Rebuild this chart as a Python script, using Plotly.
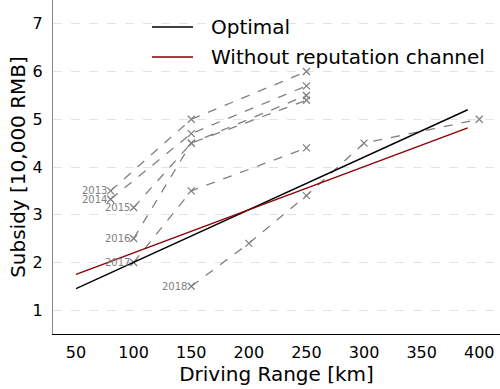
import plotly.graph_objects as go

# Historical subsidy schedules (driving range thresholds in km, subsidy in 10,000 RMB)
years = ["2013", "2014", "2015", "2016", "2017", "2018"]
ranges = [
    [80, 150, 250],
    [80, 150, 250],
    [100, 150, 250],
    [100, 150, 250],
    [100, 150, 250],
    [150, 200, 250, 300, 400],
]
subsidies = [
    [3.5, 5.0, 6.0],
    [3.325, 4.7, 5.7],
    [3.15, 4.5, 5.4],
    [2.5, 4.5, 5.5],
    [2.0, 3.5, 4.4],
    [1.5, 2.4, 3.4, 4.5, 5.0],
]

# Model subsidy curves
model_range = [50, 390]
optimal = [1.45, 5.2]
no_reputation = [1.75, 4.82]

series_names = ["Optimal", "Without reputation channel"]
series_colors = ["black", "#8b0000"]

FONT = "DejaVu Sans"
GREY = "#808080"

fig = go.Figure()

for yr, xs, ys in zip(years, ranges, subsidies):
    fig.add_trace(go.Scatter(
        x=xs, y=ys, mode="lines+markers",
        line=dict(color=GREY, width=1.3, dash="dash"),
        marker=dict(symbol="x-thin", size=7, color=GREY,
                    line=dict(color=GREY, width=1.3)),
        showlegend=False, hoverinfo="skip",
    ))
    fig.add_annotation(
        x=xs[0], y=ys[0], text=yr, showarrow=False,
        xanchor="right", yanchor="middle", xshift=-2,
        font=dict(family=FONT, size=10, color=GREY),
    )

for name, color, ys in zip(series_names, series_colors, [optimal, no_reputation]):
    fig.add_trace(go.Scatter(
        x=model_range, y=ys, mode="lines", name=name,
        line=dict(color=color, width=1.4), showlegend=False,
    ))

# Frameless legend drawn in paper coordinates
legend_rows = [0.919, 0.829]
for name, color, yrow in zip(series_names, series_colors, legend_rows):
    fig.add_shape(type="line", xref="paper", yref="paper",
                  x0=0.2215, x1=0.3132, y0=yrow, y1=yrow,
                  line=dict(color=color, width=1.5))
    fig.add_annotation(xref="paper", yref="paper", x=0.349, y=yrow,
                       text=name, showarrow=False,
                       xanchor="left", yanchor="middle",
                       font=dict(family=FONT, size=20, color="black"))

fig.update_layout(
    width=500, height=389,
    margin=dict(l=53, r=0, t=0, b=55),
    paper_bgcolor="white", plot_bgcolor="white",
    font=dict(family=FONT, color="black"),
    showlegend=False,
    xaxis=dict(
        range=[30, 418],
        tickvals=[50, 100, 150, 200, 250, 300, 350, 400],
        tickfont=dict(size=16), ticks="", ticklabelstandoff=4,
        showgrid=False, zeroline=False,
        showline=True, linecolor="black", linewidth=1.2,
        title=dict(text="Driving Range [km]", font=dict(size=20), standoff=2),
    ),
    yaxis=dict(
        range=[0.5, 7.5],
        tickvals=[1, 2, 3, 4, 5, 6, 7],
        tickfont=dict(size=16), ticks="", ticklabelstandoff=6,
        showgrid=True, gridcolor="#e3e3e3", gridwidth=1, griddash="dash",
        zeroline=False,
        showline=True, linecolor="#8c8c8c", linewidth=1.2,
        title=dict(text="Subsidy [10,000 RMB]", font=dict(size=20), standoff=1),
    ),
)

fig.write_html("out.html")
